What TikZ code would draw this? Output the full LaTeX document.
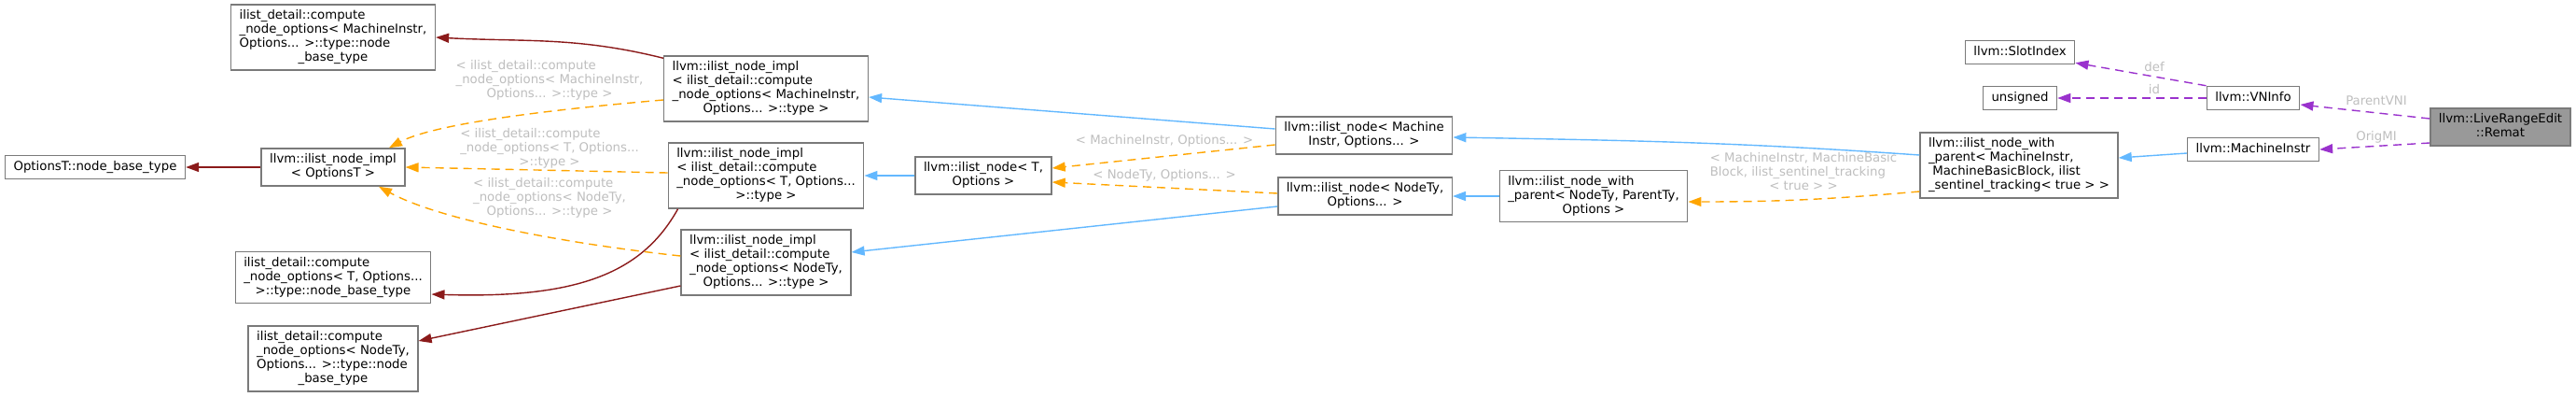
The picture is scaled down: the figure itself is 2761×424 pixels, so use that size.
\documentclass[tikz,border=0pt]{standalone}
\usepackage{fontspec}
\setmainfont{DejaVu Sans}
\usepackage{tikz}
\usetikzlibrary{arrows.meta}
\usepackage{xcolor}

\definecolor{basered}{HTML}{8B1A1A}
\definecolor{inhblue}{HTML}{63B8FF}
\definecolor{tplorange}{HTML}{FFA500}
\definecolor{usepurple}{HTML}{9A32CD}
\definecolor{boxgray}{HTML}{7A7A7A}
\definecolor{lblgray}{HTML}{BEBEBE}
\definecolor{rematgray}{HTML}{999999}

\newcommand{\boxlines}[1]{\begin{tabular}{@{}l@{}}#1\end{tabular}}
\newcommand{\lastln}[1]{\multicolumn{1}{@{}c@{}}{#1}}

\begin{document}
\begin{tikzpicture}[x=1pt,y=-1pt,>={Triangle[length=14pt,width=10pt]},
		cls/.style={draw=boxgray,line width=1.5pt,fill=white,inner xsep=9pt,inner ysep=5pt,font=\fontsize{13.3}{15}\selectfont},
		elabel/.style={text=lblgray,inner sep=0pt,font=\fontsize{13.3}{15}\selectfont},
		baseedge/.style={->,basered,line width=1.4pt},
		inhedge/.style={->,inhblue,line width=1.4pt},
		tpledge/.style={->,tplorange,line width=1.4pt,dash pattern=on 9pt off 6pt},
		useedge/.style={->,usepurple,line width=1.4pt,dash pattern=on 9pt off 6pt}]
		
		\useasboundingbox (0,0) rectangle (2761,424);
		
		% Base types (left column)
		\node[cls] (optBase) at (102,179) {\boxlines{OptionsT::node\_base\_type}};
		\node[cls] (cmiBase) at (357,40) {\boxlines{ilist\_detail::compute\\\_node\_options< MachineInstr,\\Options... >::type::node\\\lastln{\_base\_type}}};
		\node[cls] (implOpt) at (357,179) {\boxlines{llvm::ilist\_node\_impl\\\lastln{< OptionsT >}}};
		\node[cls] (cTBase) at (357,297) {\boxlines{ilist\_detail::compute\\\_node\_options< T, Options...\\\lastln{>::type::node\_base\_type}}};
		\node[cls] (cNBase) at (357,384) {\boxlines{ilist\_detail::compute\\\_node\_options< NodeTy,\\Options... >::type::node\\\lastln{\_base\_type}}};
		
		% ilist_node_impl instances
		\node[cls] (implMI) at (821,95) {\boxlines{llvm::ilist\_node\_impl\\< ilist\_detail::compute\\\_node\_options< MachineInstr,\\\lastln{Options... >::type >}}};
		\node[cls] (implT) at (821,188) {\boxlines{llvm::ilist\_node\_impl\\< ilist\_detail::compute\\\_node\_options< T, Options...\\\lastln{>::type >}}};
		\node[cls] (implN) at (821,281) {\boxlines{llvm::ilist\_node\_impl\\< ilist\_detail::compute\\\_node\_options< NodeTy,\\\lastln{Options... >::type >}}};
		
		% ilist_node instances
		\node[cls] (nodeT) at (1054,188) {\boxlines{llvm::ilist\_node< T,\\\lastln{Options >}}};
		\node[cls] (nodeMI) at (1462,145) {\boxlines{llvm::ilist\_node< Machine\\\lastln{Instr, Options... >}}};
		\node[cls] (nodeN) at (1463,210) {\boxlines{llvm::ilist\_node< NodeTy,\\\lastln{Options... >}}};
		\node[cls] (wpN) at (1708,210) {\boxlines{llvm::ilist\_node\_with\\\_parent< NodeTy, ParentTy,\\\lastln{Options >}}};
		\node[cls] (wpMI) at (2164,177) {\boxlines{llvm::ilist\_node\_with\\\_parent< MachineInstr,\\\ MachineBasicBlock, ilist\\\lastln{\_sentinel\_tracking< true > >}}};
		
		% Members
		\node[cls] (slot) at (2165,56) {\boxlines{llvm::SlotIndex}};
		\node[cls] (unsignedBox) at (2165,105) {\boxlines{unsigned}};
		\node[cls] (vni) at (2415,105) {\boxlines{llvm::VNInfo}};
		\node[cls] (mi) at (2415,160) {\boxlines{llvm::MachineInstr}};
		\node[cls,fill=rematgray] (remat) at (2680,136) {\boxlines{llvm::LiveRangeEdit\\\lastln{::Remat}}};
		
		% Base type edges
		\draw[baseedge] (implOpt.west) -- (optBase.east);
		\draw[baseedge] ([yshift=-3pt]implMI.north west) to[out=166,in=-3] (cmiBase.east);
		\draw[baseedge] ([xshift=11pt]implT.south west) .. controls +(-38,68) and +(158,5) .. ([yshift=-18pt]cTBase.east);
		\draw[baseedge] ([yshift=-25pt]implN.west) -- ([yshift=19pt]cNBase.east);
		
		% Template instantiations
		\draw[tpledge] ([yshift=-12pt]implMI.west) .. controls +(-152,13) and +(43,-23) .. ([xshift=60pt]implOpt.north);
		\draw[tpledge] ([yshift=3pt]implT.west) -- (implOpt.east);
		\draw[tpledge] ([yshift=7pt]implN.west) .. controls +(-129,-14) and +(64,35) .. ([xshift=49pt]implOpt.south);
		\draw[tpledge] ([yshift=-10pt]nodeMI.west) -- ([yshift=8pt]nodeT.east);
		\draw[tpledge] ([yshift=3pt]nodeN.west) -- ([yshift=-7pt]nodeT.east);
		\draw[tpledge] ([yshift=-28pt]wpMI.west) to[out=185,in=0] ([yshift=-6pt]wpN.east);
		\node[elabel] (lblMI) at (589,86) {\boxlines{< ilist\_detail::compute\\\_node\_options< MachineInstr,\\\lastln{Options... >::type >}}};
		\node[elabel] (lblT) at (589,159) {\boxlines{< ilist\_detail::compute\\\_node\_options< T, Options...\\\lastln{>::type >}}};
		\node[elabel] (lblN) at (589,212) {\boxlines{< ilist\_detail::compute\\\_node\_options< NodeTy,\\\lastln{Options... >::type >}}};
		\node[elabel] (lblMIOpt) at (1248,151) {< MachineInstr, Options... >};
		\node[elabel] (lblNOpt) at (1248,188) {< NodeTy, Options... >};
		\node[elabel] (lblWP) at (1933,185) {\boxlines{< MachineInstr, MachineBasic\\Block, ilist\_sentinel\_tracking\\\lastln{< true > >}}};
		
		% Inheritance
		\draw[inhedge] (nodeT.west) -- (implT.east);
		\draw[inhedge] ([yshift=7pt]nodeMI.west) -- ([yshift=-9pt]implMI.east);
		\draw[inhedge] ([yshift=-11pt]nodeN.west) -- ([yshift=11pt]implN.east);
		\draw[inhedge] (wpN.west) -- (nodeN.east);
		\draw[inhedge] ([yshift=11pt]wpMI.west) to[out=176,in=-1] ([yshift=-2pt]nodeMI.east);
		\draw[inhedge] ([yshift=-4pt]mi.west) -- ([yshift=8pt]wpMI.east);
		
		% Usage
		\draw[useedge] (vni.north west) -- ([yshift=2pt]slot.south east);
		\draw[useedge] (vni.west) -- (unsignedBox.east);
		\draw[useedge] ([yshift=9pt]remat.west) -- ([yshift=-7pt]vni.east);
		\draw[useedge] ([yshift=-17pt]remat.west) -- (mi.east);
		\node[elabel] (lblDef) at (2309,72) {def};
		\node[elabel] (lblId) at (2309,96) {id};
		\node[elabel] (lblParent) at (2547,108) {ParentVNI};
		\node[elabel] (lblOrig) at (2547,147) {OrigMI};
		
	\end{tikzpicture}
\end{document}
